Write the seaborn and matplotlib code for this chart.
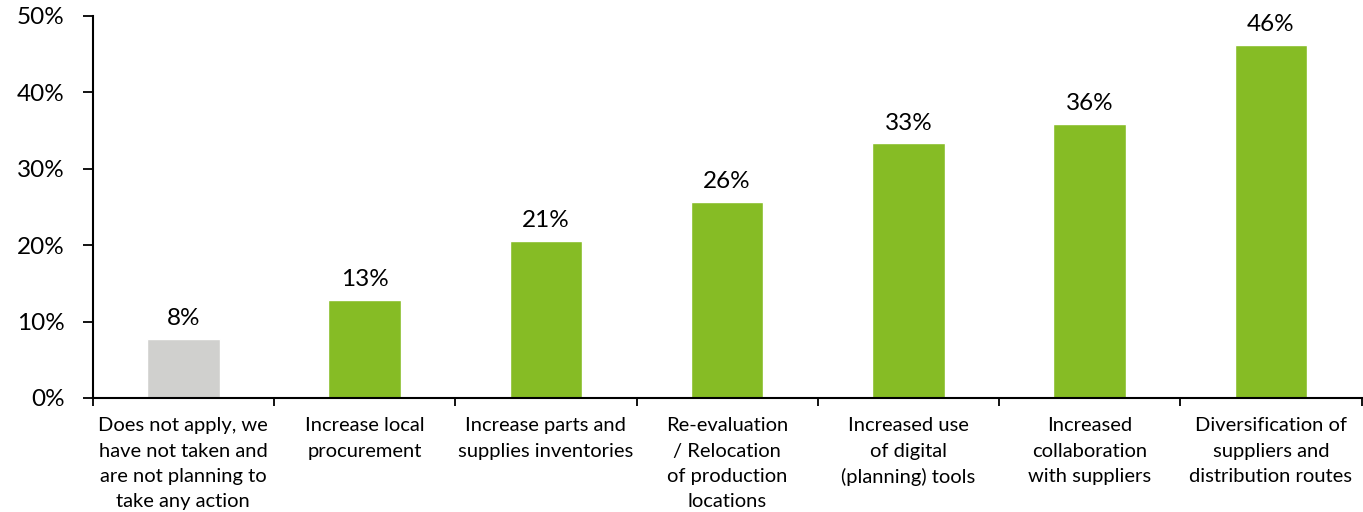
import matplotlib
matplotlib.use("Agg")
import matplotlib.pyplot as plt
import seaborn as sns
import pandas as pd
import numpy as np

categories = [
    "Does not apply, we\nhave not taken and\nare not planning to\ntake any action",
    "Increase local\nprocurement",
    "Increase parts and\nsupplies inventories",
    "Re-evaluation\n/ Relocation\nof production\nlocations",
    "Increased use\nof digital\n(planning) tools",
    "Increased\ncollaboration\nwith suppliers",
    "Diversification of\nsuppliers and\ndistribution routes",
]
values = [7.7, 12.8, 20.5, 25.6, 33.3, 35.9, 46.2]
labels = ["8%", "13%", "21%", "26%", "33%", "36%", "46%"]
colors = ["#D0D0CE"] + ["#86BC25"] * 6

sns.set_theme(style="white")
plt.rcParams['font.family'] = ['Lato', 'DejaVu Sans']

df = pd.DataFrame({"cat": categories, "val": values})
fig = plt.figure(figsize=(13.63, 5.12), dpi=100)
ax = fig.add_axes([0.068, 0.2227, 0.931, 0.7463])
sns.barplot(data=df, x="cat", y="val", hue="cat", palette=colors, legend=False,
            width=0.4, ax=ax, saturation=1)

for i, (v, t) in enumerate(zip(values, labels)):
    ax.text(i, v + 1.3, t, ha="center", va="bottom", fontsize=17.5, color="black")

ax.set_ylim(0, 50)
ax.set_xlim(-0.5, 6.5)
ax.set_yticks(range(0, 51, 10))
ax.set_yticklabels([f"{t}%" for t in range(0, 51, 10)], fontsize=17.5, color="black")
ax.tick_params(axis="y", left=True, length=7, width=1.3, color="black", pad=13)
ax.set_xticks(range(len(categories)))
ax.set_xticklabels(categories, fontsize=14.5, linespacing=1.58, color="black")
ax.tick_params(axis="x", which="major", length=0, pad=14)
ax.set_xticks(np.arange(-0.5, 7, 1), minor=True)
ax.tick_params(axis="x", which="minor", bottom=True, length=6, width=1.3, color="black")
ax.set_xlabel("")
ax.set_ylabel("")
for s in ["top", "right"]:
    ax.spines[s].set_visible(False)
for s in ["left", "bottom"]:
    ax.spines[s].set_color("black")
    ax.spines[s].set_linewidth(1.5)

fig.savefig("out.png", dpi=100)
